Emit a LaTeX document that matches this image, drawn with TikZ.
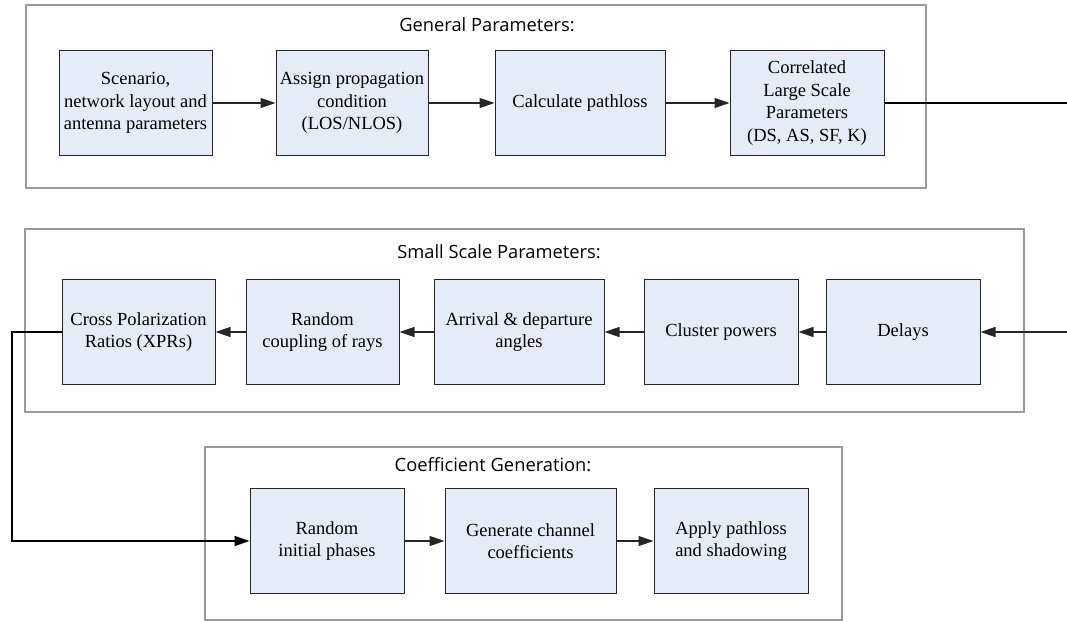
\documentclass[tikz,border=0pt]{standalone}
\usepackage{fontspec}
\setmainfont{Liberation Serif}
\newfontfamily\titlefont{Open Sans}
\usetikzlibrary{arrows.meta}
\definecolor{boxfill}{HTML}{E6ECF7}
\definecolor{framegray}{HTML}{9A9A9A}
\begin{document}
\begin{tikzpicture}[x=1pt,y=-1pt,
  stepbox/.style={draw=black!85,line width=1pt,fill=boxfill,align=center,
    minimum height=105pt,inner sep=1pt,font=\fontsize{18.5}{22.5}\selectfont},
  frame/.style={draw=framegray,line width=2pt},
  grouptitle/.style={font=\titlefont\fontsize{18.3}{21}\selectfont},
  flow/.style={draw=black!85,line width=1.3pt,-{Triangle[length=15pt,width=10pt]}},
  link/.style={draw=black,line width=1.7pt}]
\useasboundingbox (0,0) rectangle (1067,621);

% group frames
\draw[frame] (26,5) rectangle (926,188);
\draw[frame] (25,229) rectangle (1024,412);
\draw[frame] (205,447) rectangle (842,620);

\node[grouptitle] (t1) at (487,25) {General Parameters:};
\node[grouptitle] (t2) at (499,252) {Small Scale Parameters:};
\node[grouptitle] (t3) at (493,465) {Coefficient Generation:};

% general parameters
\node[stepbox,minimum width=153pt] (g1) at (135.5,103) {Scenario,\\network layout and\\antenna parameters};
\node[stepbox,minimum width=152pt] (g2) at (352,103) {Assign propagation\\condition\\(LOS/NLOS)};
\node[stepbox,minimum width=170pt] (g3) at (580,103) {Calculate pathloss};
\node[stepbox,minimum width=154pt] (g4) at (807,103) {Correlated\\Large Scale\\Parameters\\(DS, AS, SF, K)};

% small scale parameters
\node[stepbox,minimum width=153pt] (s1) at (138.5,332) {Cross Polarization\\Ratios (XPRs)};
\node[stepbox,minimum width=153pt] (s2) at (322.5,332) {Random\\coupling of rays};
\node[stepbox,minimum width=170pt] (s3) at (519,332) {Arrival \& departure\\angles};
\node[stepbox,minimum width=154pt] (s4) at (721,332) {Cluster powers};
\node[stepbox,minimum width=154pt] (s5) at (903,332) {Delays};

% coefficient generation
\node[stepbox,minimum width=154pt] (c1) at (327,541) {Random\\initial phases};
\node[stepbox,minimum width=171pt] (c2) at (530.5,541) {Generate channel\\coefficients};
\node[stepbox,minimum width=154pt] (c3) at (731,541) {Apply pathloss\\and shadowing};

\coordinate (outR) at (1067,103);
\coordinate (inR) at (1067,332);
\coordinate (loopL) at (12,332);

\draw[flow] (g1) -- (g2);
\draw[flow] (g2) -- (g3);
\draw[flow] (g3) -- (g4);
\draw[link] (g4.east) -- (outR);

\draw[flow,line width=1.6pt] (inR) -- (s5.east);
\draw[flow] (s5) -- (s4);
\draw[flow] (s4) -- (s3);
\draw[flow] (s3) -- (s2);
\draw[flow] (s2) -- (s1);

\draw[link,-{Triangle[length=15pt,width=10pt]}] (s1.west) -- (loopL) |- (c1.west);
\draw[flow] (c1) -- (c2);
\draw[flow] (c2) -- (c3);
\end{tikzpicture}
\end{document}
